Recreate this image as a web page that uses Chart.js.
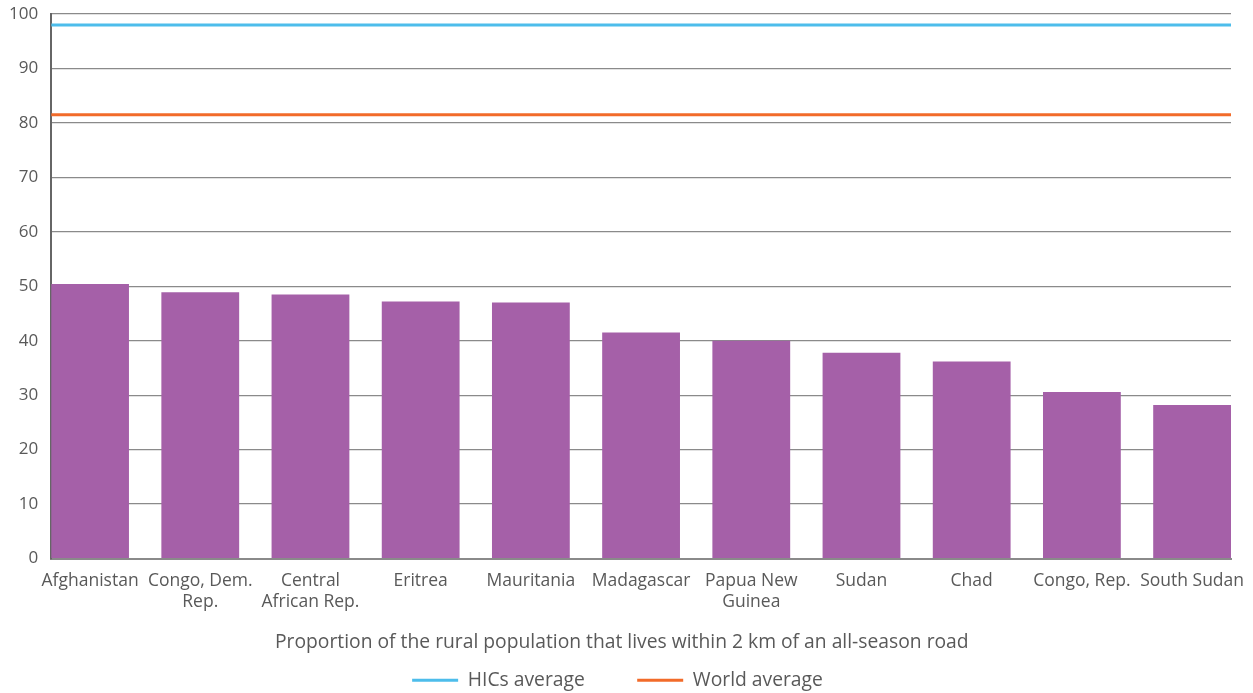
<!DOCTYPE html>
<html>
<head>
<meta charset="utf-8">
<script src="https://cdn.jsdelivr.net/npm/chart.js@4/dist/chart.umd.min.js"></script>
<style>
  body { margin: 0; background: #fff; }
  #wrap { width: 1253px; height: 693px; }
</style>
</head>
<body>
<div id="wrap"><canvas id="roadChart"></canvas></div>
<script>
const countries = [
  ['Afghanistan'],
  ['Congo, Dem.', 'Rep.'],
  ['Central', 'African Rep.'],
  ['Eritrea'],
  ['Mauritania'],
  ['Madagascar'],
  ['Papua New', 'Guinea'],
  ['Sudan'],
  ['Chad'],
  ['Congo, Rep.'],
  ['South Sudan']
];
const roadAccess = [50.4, 48.9, 48.5, 47.2, 47.0, 41.5, 40.0, 37.8, 36.2, 30.6, 28.2];
const hicsAverage = 98.0;
const worldAverage = 81.5;
const yTicks = [0, 10, 20, 30, 40, 50, 60, 70, 80, 90, 100];

const barFrac = 0.706;
const xMin = -barFrac / 2;
const xMax = countries.length - 1 + barFrac / 2;
const textColor = '#595959';
const fontFamily = "'Open Sans', 'Noto Sans', sans-serif";

const roadData = {
  datasets: [
    {
      type: 'line',
      label: 'HICs average',
      data: [{ x: xMin, y: hicsAverage }, { x: xMax, y: hicsAverage }],
      borderColor: '#4DBDEB',
      backgroundColor: '#4DBDEB',
      borderWidth: 3,
      pointRadius: 0
    },
    {
      type: 'line',
      label: 'World average',
      data: [{ x: xMin, y: worldAverage }, { x: xMax, y: worldAverage }],
      borderColor: '#F26B2A',
      backgroundColor: '#F26B2A',
      borderWidth: 3,
      pointRadius: 0
    },
    {
      type: 'bar',
      label: 'Rural access',
      data: roadAccess.map((v, i) => ({ x: i, y: v })),
      backgroundColor: '#A560A8',
      categoryPercentage: 1,
      barPercentage: barFrac,
      order: 5
    }
  ]
};

const roadConfig = {
  data: roadData,
  options: {
    responsive: true,
    maintainAspectRatio: false,
    animation: false,
    layout: { padding: { top: 0, right: 14, left: -4, bottom: -7 } },
    scales: {
      x: {
        type: 'linear',
        min: xMin,
        max: xMax,
        offset: false,
        afterBuildTicks: (scale) => {
          scale.ticks = countries.map((c, i) => ({ value: i }));
        },
        afterFit: (scale) => {
          scale.paddingRight = 22;
        },
        ticks: {
          color: textColor,
          font: { family: fontFamily, size: 17.5 },
          maxRotation: 0,
          autoSkip: false,
          padding: 4,
          callback: (value) => countries[value]
        },
        grid: { display: false, offset: false },
        border: { color: '#8a8a8a', width: 2 },
        title: {
          display: true,
          // trailing spaces nudge the centred title a little to the left, as in the source
          text: 'Proportion of the rural population that lives within 2 km of an all-season road\u2003\u2003',
          color: textColor,
          font: { family: fontFamily, size: 19.3 },
          padding: { top: 14, bottom: 16 }
        }
      },
      y: {
        min: 0,
        max: 100,
        afterBuildTicks: (scale) => {
          scale.ticks = yTicks.map(v => ({ value: v }));
        },
        afterFit: (scale) => {
          scale.paddingTop = 14;
        },
        ticks: {
          color: textColor,
          font: { family: fontFamily, size: 17 },
          padding: 13
        },
        grid: { color: '#8a8a8a', lineWidth: 1.2, drawTicks: false },
        border: { color: '#666', width: 2 }
      }
    },
    plugins: {
      legend: {
        position: 'bottom',
        labels: {
          color: textColor,
          font: { family: fontFamily, size: 19.3 },
          boxWidth: 46,
          boxHeight: 3,
          padding: 1,
          generateLabels: (chart) => {
            const items = Chart.defaults.plugins.legend.labels.generateLabels(chart)
              .filter(item => item.text !== 'Rural access');
            items.forEach(item => { item.lineWidth = 0; });
            items[0].text = items[0].text + '\u2003\u2003\u2002\u2009';
            return items;
          }
        }
      },
      tooltip: { enabled: false }
    }
  }
};

var roadChart = new Chart(
  document.getElementById('roadChart'),
  roadConfig
);
</script>
</body>
</html>
